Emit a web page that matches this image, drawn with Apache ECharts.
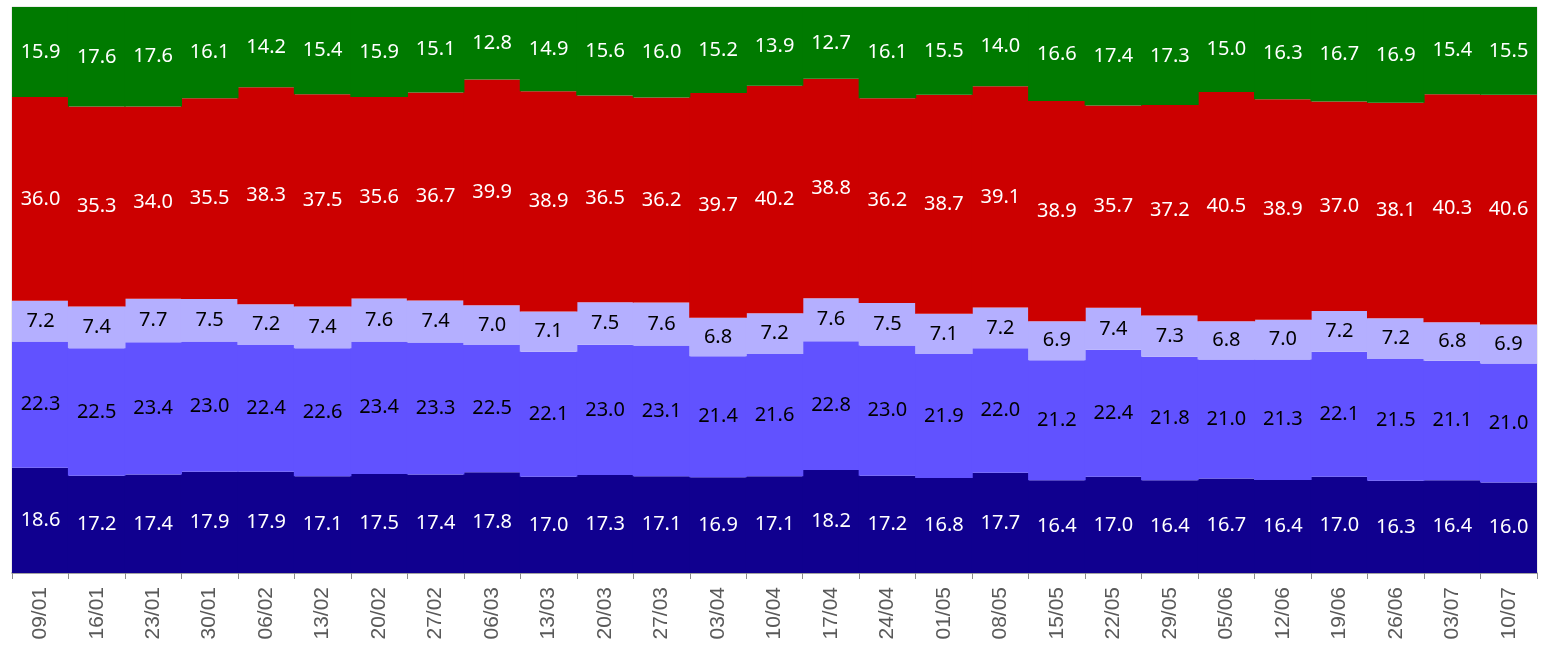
<!DOCTYPE html>
<html>
<head>
<meta charset="utf-8">
<script src="https://cdn.jsdelivr.net/npm/echarts@6/dist/echarts.min.js"></script>
<style>
  html, body { margin: 0; padding: 0; background: #fff; }
  #chart { width: 1544px; height: 650px; }
</style>
</head>
<body>
<div id="chart"></div>
<script>
// week labels
const weeks = ['09/01', '16/01', '23/01', '30/01', '06/02', '13/02', '20/02', '27/02', '06/03', '13/03',
  '20/03', '27/03', '03/04', '10/04', '17/04', '24/04', '01/05', '08/05', '15/05', '22/05',
  '29/05', '05/06', '12/06', '19/06', '26/06', '03/07', '10/07']

// shares per week, bottom to top
const navy = [18.6, 17.2, 17.4, 17.9, 17.9, 17.1, 17.5, 17.4, 17.8, 17.0, 17.3, 17.1, 16.9, 17.1, 18.2,
  17.2, 16.8, 17.7, 16.4, 17.0, 16.4, 16.7, 16.4, 17.0, 16.3, 16.4, 16.0]
const blue = [22.3, 22.5, 23.4, 23.0, 22.4, 22.6, 23.4, 23.3, 22.5, 22.1, 23.0, 23.1, 21.4, 21.6, 22.8,
  23.0, 21.9, 22.0, 21.2, 22.4, 21.8, 21.0, 21.3, 22.1, 21.5, 21.1, 21.0]
const lavender = [7.2, 7.4, 7.7, 7.5, 7.2, 7.4, 7.6, 7.4, 7.0, 7.1, 7.5, 7.6, 6.8, 7.2, 7.6,
  7.5, 7.1, 7.2, 6.9, 7.4, 7.3, 6.8, 7.0, 7.2, 7.2, 6.8, 6.9]
const red = [36.0, 35.3, 34.0, 35.5, 38.3, 37.5, 35.6, 36.7, 39.9, 38.9, 36.5, 36.2, 39.7, 40.2, 38.8,
  36.2, 38.7, 39.1, 38.9, 35.7, 37.2, 40.5, 38.9, 37.0, 38.1, 40.3, 40.6]
const green = [15.9, 17.6, 17.6, 16.1, 14.2, 15.4, 15.9, 15.1, 12.8, 14.9, 15.6, 16.0, 15.2, 13.9, 12.7,
  16.1, 15.5, 14.0, 16.6, 17.4, 17.3, 15.0, 16.3, 16.7, 16.9, 15.4, 15.5]

const layers = [
  { name: 'navy', data: navy, color: '#10008f', text: '#ffffff' },
  { name: 'blue', data: blue, color: '#6152ff', text: '#000000' },
  { name: 'lavender', data: lavender, color: '#b4afff', text: '#000000' },
  { name: 'red', data: red, color: '#cc0000', text: '#ffffff' },
  { name: 'green', data: green, color: '#007a00', text: '#ffffff' },
]

// 100% stack: scale each week to its total
const totals = weeks.map((_, i) => layers.reduce((s, l) => s + l.data[i], 0))

const chart = echarts.init(document.getElementById('chart'))
chart.setOption({
  animation: false,
  grid: { left: 12, right: 7, top: 7, bottom: 77, show: true, borderColor: '#d9d9d9', borderWidth: 1 },
  xAxis: {
    type: 'category',
    data: weeks,
    axisLine: { lineStyle: { color: '#8c8c8c', width: 1.5 } },
    axisTick: { show: true, length: 6, lineStyle: { color: '#8c8c8c' } },
    splitLine: { show: false },
    axisLabel: {
      rotate: 90,
      margin: 14,
      color: '#595959',
      fontSize: 21,
      fontFamily: 'Liberation Sans',
    },
  },
  yAxis: {
    type: 'value',
    min: 0,
    max: 100,
    show: false,
    splitLine: { show: false },
  },
  series: layers.map((l) => ({
    name: l.name,
    type: 'bar',
    stack: 'share',
    // a touch wider than the band so neighbouring weeks overlap without seams
    barWidth: '102%',
    itemStyle: { color: l.color },
    label: {
      show: true,
      position: 'inside',
      color: l.text,
      fontSize: 20,
      fontFamily: 'Noto Sans',
      formatter: (p) => l.data[p.dataIndex].toFixed(1),
    },
    data: l.data.map((v, i) => (v / totals[i]) * 100),
  })),
})
</script>
</body>
</html>
